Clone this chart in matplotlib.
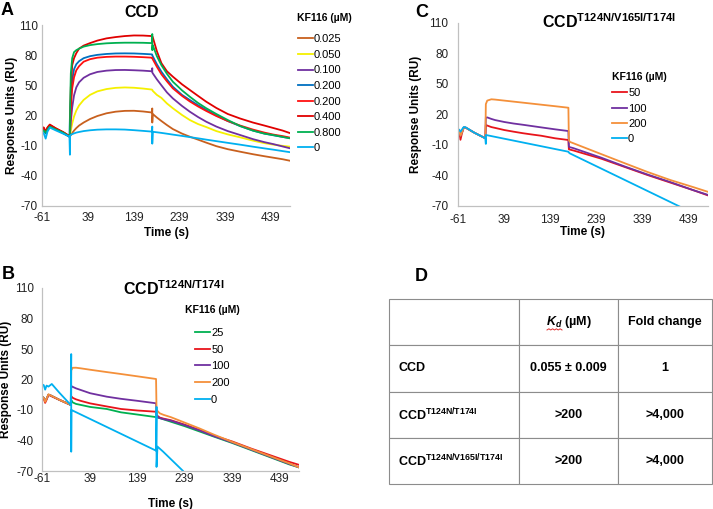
import numpy as np
import matplotlib
matplotlib.use('Agg')
import matplotlib.pyplot as plt
from matplotlib.lines import Line2D

plt.rcParams['font.family'] = ['Liberation Sans', 'DejaVu Sans']
plt.rcParams['axes.unicode_minus'] = False
plt.rcParams['mathtext.fontset'] = 'custom'
plt.rcParams['mathtext.rm'] = 'Liberation Sans'
plt.rcParams['mathtext.bf'] = 'Liberation Sans:bold'
plt.rcParams['mathtext.it'] = 'Liberation Sans:italic'
plt.rcParams['mathtext.bfit'] = 'Liberation Sans:italic:bold'

# ---- data ----
x_ticks = [-61, 39, 139, 239, 339, 439]
y_ticks = [-70, -40, -10, 20, 50, 80, 110]

# panel A: CCD
tA = [-61, -57, -53, -49, -44, -30, -15, -1, 0, 0, 0.5, 2, 5, 9, 14, 20, 30, 44,
      60, 80, 100, 120, 140, 160, 179, 180, 180, 181, 190, 200, 212, 225, 245,
      262, 280, 298, 320, 345, 372, 400, 425, 445, 465, 481]
a_labels = ['0.025', '0.050', '0.100', '0.200', '0.200', '0.400', '0.800', '0']
a_colors = ['#C8601E', '#F5F000', '#7030A0', '#0070C0', '#FF1010', '#E00000',
            '#00B050', '#00B0F0']
a_025 = [7, 7, 4, 7, 10, 6.5, 3, -1, -1, -1,
         -0.5, 0.5, 2.5, 5, 7.5, 10, 13, 16.5, 19.5, 22.2, 23.8, 24.6, 24.7, 24, 23,
         27, 13,
         21.5, 18, 14.5, 10.5, 6.5, 2, -1.1, -4, -7, -10.5, -13.5, -16, -18.5, -20.5, -22, -23.5, -25]
a_050 = [6, 5, 3, 6, 9, 6, 3, -1, -1, -1,
         1, 5, 12, 19, 25, 30, 35.5, 40.5, 44, 46.3, 47.5, 47.9, 47.6, 46.8, 45.8,
         45.5, 45.5,
         44.5, 40.5, 37.5, 32, 27.2, 20.5, 15.5, 11.5, 8.5, 4.5, 1.2, -1.7, -5, -7.5, -9, -10.2, -11]
a_100 = [6, 6, 3, 7, 9.5, 6.5, 3, -1, -1, -1,
         4, 14, 28, 40, 48, 53, 57.5, 61, 63.3, 64.6, 65.2, 65.3, 65, 64.6, 64,
         67, 63,
         62, 56, 50, 43, 37, 29.5, 23.8, 18.5, 13.8, 9, 4.5, 0.6, -3.5, -6.5, -8.5, -10.8, -12.6]
a_200a = [6, 5, 2, 6, 9, 6, 2.5, -1, 18, -1,
          12, 35, 55, 66, 71, 74, 77, 79, 80.3, 81.2, 81.7, 81.8, 81.7, 81.3, 80.8,
          80.5, 80,
          79, 71, 63.5, 56, 48.6, 40.5, 35.4, 30.3, 25.5, 20, 14.5, 9.5, 5, 2, 0.3, -1.3, -2.5]
a_200b = [9, 7, 4, 8, 10.5, 7, 3.5, -0.5, -0.5, -0.5,
          8, 28, 47, 58, 65, 69, 73.5, 76, 77.5, 78.3, 78.6, 78.6, 78.4, 78, 77.5,
          77.3, 77,
          76, 68.5, 61, 54, 47, 39.5, 34, 29, 24.5, 19.5, 14.5, 10, 6, 3, 1, -0.5, -2]
a_400 = [8, 8, 4, 8, 11, 7, 3.5, -0.5, -0.5, -0.5,
         20, 48, 70, 77, 82, 86.5, 89.5, 92, 94.5, 96.7, 98, 99, 99.6, 99.5, 99,
         99, 98.5,
         98, 84, 72, 64, 58.6, 51, 45.4, 39.5, 33.7, 27.5, 21.5, 17, 13, 10, 7.5, 5, 2.5]
a_800 = [5, 5, 3, 6, 9, 6, 3, -1, -1, -1,
         30, 62, 77, 83, 85, 86.5, 88.5, 90, 91, 91.8, 92.2, 92.4, 92.4, 92.3, 92,
         101, 85,
         90, 79, 70, 61.5, 53.6, 45, 38.7, 32.5, 27.2, 21.5, 15.5, 9.5, 5, 2, 0.5, -1.3, -2.7]
a_0 = [4, 2, -3, 4, 8, 5, 2, -1, -19, -1,
       0, 0.8, 1.5, 2.2, 3, 3.6, 4.5, 5.3, 5.9, 6.2, 6.2, 6, 5.4, 4.7, 4,
       9, -8,
       3.8, 3.3, 2.7, 1.9, 1, -0.3, -1.5, -2.7, -4, -5.5, -7.2, -9, -11, -12.7, -14, -15.4, -16.5]
a_series = [a_025, a_050, a_100, a_200a, a_200b, a_400, a_800, a_0]

# panel B: CCD T124N/T174I
tB = [-61, -58, -55, -52, -48, -44, -25, -1, 0, 3, 10, 20, 40, 75, 105, 140, 179,
      180, 187, 195, 210, 240, 270, 300, 340, 380, 420, 460, 481]
b_labels = ['25', '50', '100', '200', '0']
b_colors = ['#00B050', '#E8141B', '#7030A0', '#F4903A', '#00B0F0']
b_25 = [3, 2, -1, 1, 5, 4.5, 0, -5,
        -0.2, -2.5, -4, -5, -7, -9, -12.3, -14.5, -17,
        -17.3, -18, -19.2, -21.5, -26, -31, -36, -42.5, -49.5, -56.5, -63.5, -66.5]
b_50 = [2, 1, -3, 0, 5, 4, 0, -5,
        3.5, 2, 0.5, -1, -3.5, -6.5, -9, -10.5, -11.7,
        -15, -17.5, -18.5, -20, -24.5, -29.5, -35, -41, -48, -54.5, -61, -64]
b_100 = [3, 2, -1, 1, 5, 4.5, 0, -5,
         13.6, 12.8, 11.3, 9.7, 6.5, 3.1, 1, -1, -3.4,
         -16, -18, -19, -20.5, -25, -30, -35.5, -42, -49, -56, -63, -66.5]
b_200 = [3, 2, -2, 1, 5.5, 4.5, 0, -5,
         29, 31.5, 31.6, 31, 29.6, 27.3, 25.4, 23.1, 20.5,
         -10, -13.3, -14.8, -17, -22.5, -28, -34, -41.5, -48.5, -55.5, -62.5, -66.5]
tB_0 = [-61, -58, -55, -52, -48, -41, -25, -1, 0, 0, 0.5, 179, 180, 180, 182, 194, 236, 240]
b_0 = [15, 14.5, 10, 14, 13, 15.6, 7, -5, 45, -51, -10, -50, -7, -66, -46, -51, -70, -73]

# panel C: CCD T124N/V165I/T174I
tC = [-61, -58, -55, -52, -48, -44, -25, -1, 0, 3, 12, 20, 40, 60, 80, 100, 120,
      150, 179, 180, 182, 190, 250, 300, 350, 400, 450, 481]
c_labels = ['50', '100', '200', '0']
c_colors = ['#E8141B', '#7030A0', '#F4903A', '#00B0F0']
c_50 = [5, 4.5, -5, 1, 7, 7, 2, -3.5,
        9.5, 9, 7.5, 6.7, 4.6, 3, 1.5, 0.2, -1, -3.5, -5.2,
        -14.3, -14.6, -15.5, -23.5, -31.5, -39.5, -47, -54.5, -59.5]
c_100 = [5, 4.5, -1, 2, 7, 7, 2, -3.5,
         16.7, 17, 15.5, 14.4, 12.5, 11, 9.8, 8.5, 7.2, 5.3, 3.6,
         -11.8, -12.2, -13.2, -22.5, -31, -39, -46.5, -54.5, -59]
c_200 = [5, 4.5, -1, 2, 7, 7, 2, -3.5,
         30, 33.5, 34.8, 34.5, 33.5, 32.5, 31.5, 30.5, 29.5, 28, 26.5,
         -5.2, -7, -8.4, -19, -27.8, -36.5, -44.5, -51.5, -56]
tC_0 = [-61, -58, -55, -52, -48, -44, -25, -1, 0, 0, 0.5, 179, 180, 182, 421, 425]
c_0 = [5.5, 5, 3, 5, 7.5, 7.3, 2, -3.5, -9, -0.3, -0.3, -16.7, -17.5, -18.3, -70.7, -71.6]

# panel D: table
table_header = ['', r'$\mathbfit{K}_{\mathbfit{d}}$ (µM)', 'Fold change']
table_rows = ['CCD', r'CCD$^{\mathbf{T124N/T174I}}$', r'CCD$^{\mathbf{T124N/V165I/T174I}}$']
kd_values = ['0.055 ± 0.009', '>200', '>200']
fold_values = ['1', '>4,000', '>4,000']

# ---- layout helpers (pixel positions on a 713x509 canvas) ----
W, H = 713, 509
def fx(px):
    return px / W
def fy(py):
    return 1 - py / H

fig = plt.figure(figsize=(7.13, 5.09), dpi=100)

def make_axes(left, right, top, bottom):
    ax = fig.add_axes([fx(left), fy(bottom), (right - left) / W, (bottom - top) / H])
    ax.set_xlim(-61, 481)
    ax.set_ylim(-70, 110)
    ax.set_xticks(x_ticks)
    ax.set_yticks(y_ticks)
    for s in ['top', 'right']:
        ax.spines[s].set_visible(False)
    for s in ['left', 'bottom']:
        ax.spines[s].set_color('#c0c0c0')
        ax.spines[s].set_linewidth(0.9)
    ax.tick_params(length=0, labelsize=8.5, colors='#222222')
    return ax

def finish_axes(ax, xpad, ypad, xlpad, ylpad):
    ax.tick_params(axis='x', pad=xpad)
    ax.tick_params(axis='y', pad=ypad)
    ax.set_xlabel('Time (s)', fontsize=8.5, fontweight='bold', labelpad=xlpad)
    ax.set_ylabel('Response Units (RU)', fontsize=8.5, fontweight='bold', labelpad=ylpad)

def add_legend(ax, left, first_y, spacing):
    ax.legend(loc='upper left', bbox_to_anchor=(fx(left), fy(first_y - 3)),
              bbox_transform=fig.transFigure, frameon=False, fontsize=8,
              borderpad=0, borderaxespad=0, handlelength=1.35, handletextpad=0.1,
              labelspacing=spacing)

lw = 1.3

# A
axA = make_axes(42, 290, 25, 206)
for vals, lab, col in zip(a_series, a_labels, a_colors):
    axA.plot(tA, vals, color=col, lw=lw, label=lab)
finish_axes(axA, 4, 3.2, 2.5, 0.5)
add_legend(axA, 298, 37.3, 0.5)

# C
axC = make_axes(457.7, 707.7, 22.7, 206)
for vals, lab, col in zip([c_50, c_100, c_200], c_labels[:3], c_colors[:3]):
    axC.plot(tC, vals, color=col, lw=lw, label=lab)
axC.plot(tC_0, c_0, color=c_colors[3], lw=lw, label=c_labels[3])
finish_axes(axC, 5.5, 6.8, 0.5, 5.2)
add_legend(axC, 612, 91.2, 0.48)

# B
axB = make_axes(42.3, 299.2, 288, 471)
for vals, lab, col in zip([b_25, b_50, b_100, b_200], b_labels[:4], b_colors[:4]):
    axB.plot(tB, vals, color=col, lw=lw, label=lab)
axB.plot(tB_0, b_0, color=b_colors[4], lw=lw, label=b_labels[4])
finish_axes(axB, 1.5, 6, 9.5, 1.8)
add_legend(axB, 195, 331, 0.6)

# legend titles
for px, py in [(296.7, 18.3), (611.7, 77), (185, 310)]:
    fig.text(fx(px), fy(py), 'KF116 (µM)', fontsize=7.5, fontweight='bold',
             ha='left', va='center')

# panel titles
fig.text(fx(141.7), fy(17.3), 'CCD', fontsize=11.5, fontweight='bold',
         ha='center', va='baseline')
fig.text(fx(541.7), fy(28), r'CCD$^{\mathbf{T124N/V165I/T174I}}$', fontsize=11.5,
         fontweight='bold', ha='left', va='baseline')
fig.text(fx(123.3), fy(295), r'CCD$^{\mathbf{T124N/T174I}}$', fontsize=11.5,
         fontweight='bold', ha='left', va='baseline')

# panel letters
for letter, px, py in [('A', 1, 15), ('B', 2, 279.3), ('C', 415, 17.3), ('D', 415, 280.7)]:
    fig.text(fx(px), fy(py), letter, fontsize=13, fontweight='bold',
             ha='left', va='baseline')

# D: table
axD = fig.add_axes([fx(389), fy(484), (712 - 389) / W, (484 - 299) / H])
axD.axis('off')
cells = [table_header] + [[r, k, f] for r, k, f in zip(table_rows, kd_values, fold_values)]
tbl = axD.table(cellText=cells, bbox=[0, 0, 1, 1], cellLoc='center',
                colWidths=[130, 99, 94])
tbl.auto_set_font_size(False)
for (r, c), cell in tbl.get_celld().items():
    cell.set_edgecolor('#8c8c8c')
    cell.set_linewidth(0.8)
    cell.get_text().set_fontsize(9)
    cell.get_text().set_fontweight('bold')
    if c == 0:
        cell.get_text().set_horizontalalignment('left')
        cell.PAD = 0.07

# red spell-check underline under Kd
zx = np.linspace(fx(547), fx(562), 9)
zy = fy(330) + np.array([0, 1, 0, 1, 0, 1, 0, 1, 0]) * (1.2 / H)
fig.add_artist(Line2D(zx, zy, color='#e03030', lw=0.7, transform=fig.transFigure))

fig.savefig('out.png', dpi=100)
